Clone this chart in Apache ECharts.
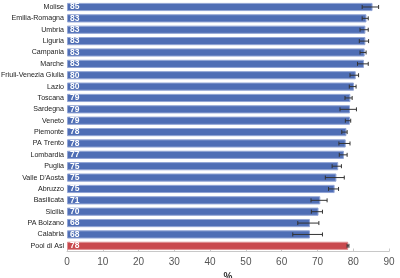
<!DOCTYPE html>
<html><head><meta charset="utf-8">
<script src="https://cdn.jsdelivr.net/npm/echarts@6/dist/echarts.min.js"></script>
<style>html,body{margin:0;padding:0;background:#fff}#c{width:400px;height:278px}</style>
</head><body><div id="c"></div>
<script>
const categories = ["Molise","Emilia-Romagna","Umbria","Liguria","Campania","Marche","Friuli-Venezia Giulia","Lazio","Toscana","Sardegna","Veneto","Piemonte","PA Trento","Lombardia","Puglia","Valle D'Aosta","Abruzzo","Basilicata","Sicilia","PA Bolzano","Calabria","Pool di Asl"];
const values = [85.4,83.7,83.4,83.4,83.2,83.0,80.7,80.2,79.2,79.1,79.1,78.1,77.9,77.4,75.8,75.3,74.8,70.8,70.3,67.9,67.9,78.6];
const labels = [85,83,83,83,83,83,80,80,79,79,79,78,78,77,75,75,75,71,70,68,68,78];
const ciLow = [82.5,82.5,81.9,81.7,81.9,81.2,79.1,78.9,77.7,76.3,77.8,76.8,76.0,76.1,74.1,72.2,73.1,68.2,68.3,64.5,63.1,78.3];
const ciHigh = [87.1,84.2,84.2,84.3,83.6,84.2,81.5,80.8,79.7,80.9,79.3,78.3,79.1,78.3,76.7,77.5,75.9,72.7,71.4,70.4,71.4,78.8];
const xTicks = {min:0, max:90, interval:10};

const chart = echarts.init(document.getElementById('c'), null, {renderer:'canvas'});
const font = "'Liberation Sans','Arial',sans-serif";
chart.setOption({
  animation:false,
  grid:{left:67, right:11, top:1.3, bottom:26.5, containLabel:false, outerBoundsMode:'none'},
  xAxis:{type:'value', min:xTicks.min, max:xTicks.max, interval:xTicks.interval,
    name:'%', nameLocation:'middle', nameGap:16,
    nameTextStyle:{color:'#333', fontSize:10, fontFamily:font, fontWeight:'bold'},
    axisLine:{show:true, lineStyle:{color:'#c8c8c8'}},
    axisTick:{show:true, inside:true, length:3, lineStyle:{color:'#c8c8c8'}},
    axisLabel:{color:'#555', fontSize:10, fontFamily:font, margin:6},
    splitLine:{show:false}},
  yAxis:{type:'category', data:categories, inverse:true,
    axisLine:{show:false}, axisTick:{show:false},
    axisLabel:{color:'#222', fontSize:7.1, fontFamily:font, margin:3, interval:0, hideOverlap:false}},
  series:[
    {type:'bar', data:values.map((v,i)=>({value:v, itemStyle:{color: i===values.length-1?'#c9494e':'#4f6eb5', borderColor: i===values.length-1?'#e09094':'#93a6d6'}})),
     barCategoryGap:'28%',
     itemStyle:{borderWidth:1},
     label:{show:true, position:'insideLeft', distance:3, color:'#fff', fontSize:8.5, fontFamily:font, fontWeight:'bold',
       formatter:p=>labels[p.dataIndex]}},
    {type:'custom', data:categories.map((c,i)=>[i, ciLow[i], ciHigh[i]]),
     renderItem:(params, api)=>{
       const i = api.value(0);
       const a = api.coord([api.value(1), i]);
       const b = api.coord([api.value(2), i]);
       const h = 2;
       const st = {stroke:'#333', lineWidth:1};
       return {type:'group', children:[
         {type:'line', shape:{x1:a[0],y1:a[1],x2:b[0],y2:b[1]}, style:st},
         {type:'line', shape:{x1:a[0],y1:a[1]-h,x2:a[0],y2:a[1]+h}, style:st},
         {type:'line', shape:{x1:b[0],y1:b[1]-h,x2:b[0],y2:b[1]+h}, style:st}
       ]};
     }, z:10}
  ]
});
</script></body></html>
